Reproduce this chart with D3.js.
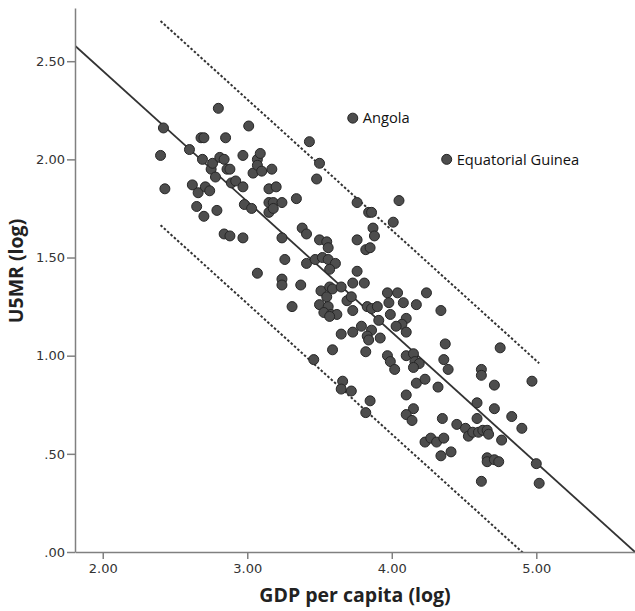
<!DOCTYPE html>
<html>
<head>
<meta charset="utf-8">
<script src="https://cdn.jsdelivr.net/npm/d3@7"></script>
<style>
  body { margin: 0; background: #fff; }
  svg { display: block; }
  .axis path, .axis line { stroke: #808080; stroke-width: 1.5; }
  .axis text { font-family: "DejaVu Sans", sans-serif; font-size: 13px; fill: #333; }
  .title { font-family: "Open Sans", sans-serif; font-weight: bold; font-size: 19.5px; fill: #222; }
  .pt-label { font-family: "Open Sans", sans-serif; font-size: 14.7px; fill: #111; }
</style>
</head>
<body>
<svg id="chart" width="635" height="611"></svg>
<script>
// GDP per capita (log) and U5MR (log), one entry per country
const gdp = [
  2.40, 2.42, 2.43, 2.60, 2.62, 2.65, 2.66, 2.68, 2.70, 2.69, 2.71, 2.70, 2.74, 2.75, 2.76, 2.78,
  2.79, 2.80, 2.81, 2.84, 2.85, 2.86, 2.88, 2.84, 2.88, 2.89, 2.92, 2.97, 2.97, 2.97, 3.01, 2.98,
  3.03, 3.04, 3.07, 3.07, 3.09, 3.07, 3.10, 3.15, 3.15, 3.15, 3.17, 3.18, 3.18, 3.20, 3.24, 3.24,
  3.24, 3.24, 3.26, 3.31, 3.34, 3.37, 3.38, 3.41, 3.41, 3.43, 3.47, 3.46, 3.48, 3.50, 3.50, 3.55,
  3.56, 3.52, 3.56, 3.61, 3.57, 3.51, 3.55, 3.57, 3.59, 3.65, 3.69, 3.50, 3.56, 3.53, 3.58, 3.62,
  3.57, 3.65, 3.59,
  3.73, 4.38, 3.76, 3.84, 3.86, 3.87, 3.88, 3.76, 3.82, 3.85, 4.01, 4.05, 3.76, 3.73, 3.81, 3.72,
  3.97, 4.04, 4.24, 3.73, 3.83, 3.86, 3.90, 3.98, 4.08, 4.17, 3.99, 3.91, 4.10, 4.07, 4.03, 4.10,
  4.34, 3.79, 3.73, 3.86, 3.83, 3.84, 3.92,
  3.82, 3.97, 3.99, 4.02, 4.10, 4.15, 4.16, 4.19, 4.15, 4.37, 4.36, 4.39, 4.17, 4.23, 4.32, 4.10,
  3.66, 3.65, 3.72, 3.85, 3.82, 4.15, 4.10, 4.14, 4.35, 4.23, 4.27, 4.31, 4.36, 4.34, 4.41,
  4.45, 4.51, 4.53, 4.56, 4.60, 4.63, 4.66, 4.67, 4.59, 4.59, 4.62, 4.62, 4.71, 4.75, 4.71, 4.83,
  4.90, 4.76, 4.66, 4.66, 4.71, 4.74, 4.97, 5.00, 4.62, 5.02
];
const u5mr = [
  2.02, 2.16, 1.85, 2.05, 1.87, 1.76, 1.83, 2.11, 2.11, 2.00, 1.86, 1.71, 1.84, 1.95, 1.98, 1.91,
  1.74, 2.26, 2.01, 2.00, 2.11, 1.95, 1.95, 1.62, 1.61, 1.88, 1.89, 2.02, 1.86, 1.60, 2.17, 1.77,
  1.75, 1.93, 2.00, 1.97, 2.03, 1.42, 1.94, 1.78, 1.73, 1.85, 1.95, 1.78, 1.75, 1.86, 1.78, 1.60,
  1.39, 1.36, 1.49, 1.25, 1.80, 1.36, 1.65, 1.62, 1.47, 2.09, 1.49, 0.98, 1.90, 1.98, 1.59, 1.58,
  1.55, 1.50, 1.49, 1.47, 1.44, 1.33, 1.30, 1.35, 1.34, 1.35, 1.28, 1.26, 1.25, 1.22, 1.21, 1.21,
  1.20, 1.11, 1.03,
  2.21, 2.00, 1.78, 1.73, 1.73, 1.65, 1.61, 1.59, 1.54, 1.55, 1.68, 1.79, 1.43, 1.37, 1.37, 1.30,
  1.32, 1.32, 1.32, 1.23, 1.25, 1.24, 1.25, 1.27, 1.27, 1.26, 1.21, 1.18, 1.19, 1.16, 1.15, 1.12,
  1.23, 1.15, 1.12, 1.13, 1.10, 1.08, 1.09,
  1.02, 1.00, 0.97, 0.93, 1.00, 1.01, 0.97, 0.96, 0.94, 1.06, 0.98, 0.93, 0.86, 0.88, 0.84, 0.80,
  0.87, 0.83, 0.82, 0.77, 0.71, 0.73, 0.70, 0.67, 0.68, 0.56, 0.58, 0.56, 0.58, 0.49, 0.51,
  0.65, 0.63, 0.59, 0.61, 0.61, 0.62, 0.62, 0.60, 0.76, 0.68, 0.93, 0.90, 0.85, 1.04, 0.73, 0.69,
  0.63, 0.57, 0.48, 0.46, 0.47, 0.46, 0.87, 0.45, 0.36, 0.35
];

// labelled outliers
const labelNames = ['Angola', 'Equatorial Guinea'];
const labelGdp = [3.73, 4.38];
const labelU5mr = [2.21, 2.00];

const xTicks = [2, 3, 4, 5];
const yTicks = [0, 0.5, 1, 1.5, 2, 2.5];
const xDomain = [1.808, 5.683];
const yDomain = [0, 2.771];

// fit line and 95% prediction band
const fitIntercept = 3.782;
const fitSlope = -0.6655;
const bandHalfWidth = 0.52;
const bandExtent = [2.40, 5.02];

const W = 635, H = 611;
const margin = { top: 8, right: 0, bottom: 59, left: 75 };

const svg = d3.select('#chart');
const x = d3.scaleLinear().domain(xDomain).range([margin.left, W - margin.right]);
const y = d3.scaleLinear().domain(yDomain).range([H - margin.bottom, margin.top]);

// SPSS style numbers: .50 instead of 0.50
const fmt = v => d3.format('.2f')(v).replace(/^0\./, '.');

svg.append('defs').append('clipPath').attr('id', 'plot')
  .append('rect')
  .attr('x', margin.left).attr('y', margin.top)
  .attr('width', W - margin.left - margin.right)
  .attr('height', H - margin.top - margin.bottom);

const plot = svg.append('g').attr('clip-path', 'url(#plot)');

const fit = v => fitIntercept + fitSlope * v;
const line = d3.line().x(d => x(d[0])).y(d => y(d[1]));

// prediction band, dotted
[1, -1].forEach(sign => {
  plot.append('path')
    .datum(bandExtent.map(v => [v, fit(v) + sign * bandHalfWidth]))
    .attr('d', line)
    .attr('fill', 'none')
    .attr('stroke', '#333')
    .attr('stroke-width', 2)
    .attr('stroke-dasharray', '2.5,2');
});

// fit line
plot.append('path')
  .datum(xDomain.map(v => [v, fit(v)]))
  .attr('d', line)
  .attr('fill', 'none')
  .attr('stroke', '#333')
  .attr('stroke-width', 1.8);

// points
plot.selectAll('circle.dot')
  .data(d3.range(gdp.length))
  .enter()
  .append('circle')
  .attr('class', 'dot')
  .attr('cx', i => x(gdp[i]))
  .attr('cy', i => y(u5mr[i]))
  .attr('r', 5)
  .attr('fill', '#4d4d4d')
  .attr('stroke', '#262626')
  .attr('stroke-width', 1);

// outlier labels
svg.selectAll('text.pt-label')
  .data(labelNames)
  .enter()
  .append('text')
  .attr('class', 'pt-label')
  .attr('x', (d, i) => x(labelGdp[i]) + 10)
  .attr('y', (d, i) => y(labelU5mr[i]))
  .attr('dy', '0.35em')
  .text(d => d);

// axes
svg.append('g')
  .attr('class', 'axis')
  .attr('transform', `translate(0,${H - margin.bottom})`)
  .call(d3.axisBottom(x).tickValues(xTicks).tickFormat(fmt).tickSize(7).tickSizeOuter(0).tickPadding(5));

svg.append('g')
  .attr('class', 'axis')
  .attr('transform', `translate(${margin.left},0)`)
  .call(d3.axisLeft(y).tickValues(yTicks).tickFormat(fmt).tickSize(8).tickSizeOuter(0).tickPadding(2));

// axis titles
svg.append('text')
  .attr('class', 'title')
  .attr('x', 355)
  .attr('y', 602)
  .attr('text-anchor', 'middle')
  .text('GDP per capita (log)');

svg.append('text')
  .attr('class', 'title')
  .attr('transform', 'translate(23,271) rotate(-90)')
  .attr('text-anchor', 'middle')
  .text('U5MR (log)');
</script>
</body>
</html>
